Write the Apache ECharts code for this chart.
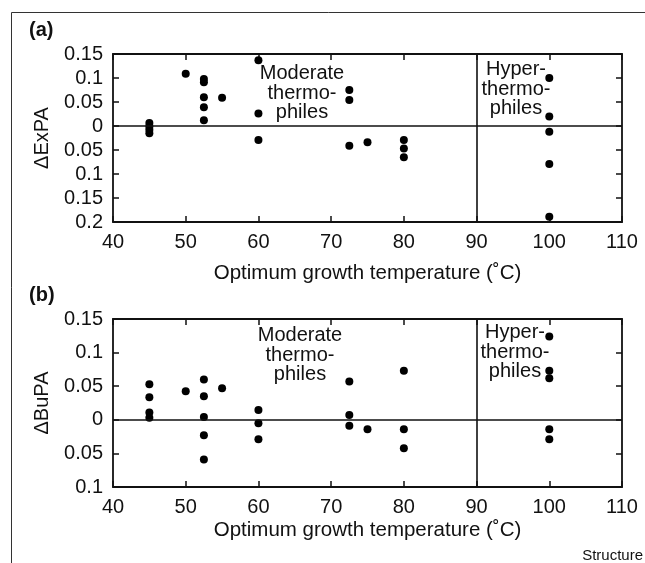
<!DOCTYPE html>
<html><head><meta charset="utf-8">
<script src="https://cdn.jsdelivr.net/npm/echarts@6/dist/echarts.min.js"></script>
<style>html,body{margin:0;padding:0;background:#fff}#c{width:645px;height:563px}</style>
</head><body><div id="c"></div>
<script>
// Panel (a): ΔExPA vs optimum growth temperature
const tempA = [45,45,45,45,50,52.5,52.5,52.5,52.5,52.5,55,60,60,60,72.5,72.5,72.5,75,80,80,80,100,100,100,100,100];
const expa  = [0.006,-0.001,-0.008,-0.015,0.109,0.098,0.091,0.06,0.039,0.012,0.059,0.137,0.026,-0.029,0.075,0.054,-0.041,-0.034,-0.029,-0.047,-0.065,0.1,0.02,-0.012,-0.079,-0.189];
// Panel (b): ΔBuPA vs optimum growth temperature
const tempB = [45,45,45,45,50,52.5,52.5,52.5,52.5,52.5,55,60,60,60,72.5,72.5,72.5,75,80,80,80,100,100,100,100,100];
const bupa  = [0.053,0.0335,0.011,0.003,0.0425,0.06,0.035,0.004,-0.023,-0.059,0.047,0.0146,-0.005,-0.029,0.057,0.007,-0.009,-0.014,0.073,-0.014,-0.0425,0.124,0.073,0.062,-0.014,-0.029];
// Axis ranges and tick labels
const xTicks = [40,50,60,70,80,90,100,110];
const yTicksA = ['0.2','0.15','0.1','0.05','0','0.05','0.1','0.15'];   // from -0.2 to 0.15
const yTicksB = ['0.1','0.05','0','0.05','0.1','0.15'];               // from -0.1 to 0.15
const boundaryTemp = 90;
const xTitle = 'Optimum growth temperature (˚C)';

const FONT = '"Liberation Sans", Arial, sans-serif';
const INK = '#111';

function xAx(grid, pos, gap) {
  const main = pos === 'bottom';
  return {
    type: 'value', gridIndex: grid, position: pos,
    min: xTicks[0], max: xTicks[xTicks.length - 1], interval: 10,
    name: main ? xTitle : '', nameLocation: 'middle', nameGap: gap,
    nameTextStyle: {fontFamily: FONT, fontSize: 20.5, color: INK},
    axisLine: {show: true, onZero: false, lineStyle: {color: INK, width: 1.8}},
    axisTick: {show: true, inside: true, length: 6, lineStyle: {color: INK, width: 1.5}},
    axisLabel: {show: main, fontFamily: FONT, fontSize: 20, color: INK, margin: 10},
    splitLine: {show: false}
  };
}
function yAx(grid, pos, min, labels, name) {
  const main = pos === 'left';
  return {
    type: 'value', gridIndex: grid, position: pos,
    min: min, max: 0.15, interval: 0.05,
    name: main ? name : '', nameLocation: 'middle', nameGap: 61, nameRotate: 90,
    nameTextStyle: {fontFamily: FONT, fontSize: 20, color: INK},
    axisLine: {show: true, onZero: false, lineStyle: {color: INK, width: 1.8}},
    axisTick: {show: true, inside: true, length: 6, lineStyle: {color: INK, width: 1.5}},
    axisLabel: {show: main, fontFamily: FONT, fontSize: 20, color: INK, margin: 10,
      formatter: (v) => labels[Math.round((v - min) / 0.05)]},
    splitLine: {show: false}
  };
}
function series(xi, yi, xs, ys) {
  return {
    type: 'scatter', xAxisIndex: xi, yAxisIndex: yi,
    data: xs.map((x, i) => [x, ys[i]]),
    symbol: 'circle', symbolSize: 8,
    itemStyle: {color: '#000', opacity: 1},
    markLine: {
      silent: true, symbol: 'none', label: {show: false},
      lineStyle: {color: INK, width: 1.6, type: 'solid', opacity: 1},
      data: [{xAxis: boundaryTemp}, {yAxis: 0}]
    }
  };
}
const textStyle = (t, x, y) => ({
  type: 'text', x: x, y: y,
  style: {text: t, fontFamily: FONT, fontSize: 20, fill: INK, textAlign: 'center', lineHeight: 19.5}
});

const chart = echarts.init(document.getElementById('c'), null, {renderer: 'canvas'});
chart.setOption({
  backgroundColor: '#fff',
  animation: false,
  grid: [
    {left: 113, right: 23, top: 54, height: 168},
    {left: 113, right: 23, top: 319, height: 168}
  ],
  xAxis: [xAx(0, 'bottom', 41), xAx(0, 'top', 0), xAx(1, 'bottom', 33), xAx(1, 'top', 0)],
  yAxis: [
    yAx(0, 'left', -0.2, yTicksA, 'ΔExPA'), yAx(0, 'right', -0.2, yTicksA, ''),
    yAx(1, 'left', -0.1, yTicksB, 'ΔBuPA'), yAx(1, 'right', -0.1, yTicksB, '')
  ],
  series: [series(0, 0, tempA, expa), series(2, 2, tempB, bupa)],
  graphic: [
    {type: 'line', shape: {x1: 11.5, y1: 12.5, x2: 645, y2: 12.5}, style: {stroke: '#333', lineWidth: 1}},
    {type: 'line', shape: {x1: 11.5, y1: 12.5, x2: 11.5, y2: 563}, style: {stroke: '#333', lineWidth: 1}},
    {type: 'text', x: 29, y: 20, style: {text: '(a)', fontFamily: FONT, fontSize: 20, fontWeight: 'bold', fill: INK}},
    {type: 'text', x: 29, y: 285, style: {text: '(b)', fontFamily: FONT, fontSize: 20, fontWeight: 'bold', fill: INK}},
    textStyle('Moderate\nthermo-\nphiles', 302, 64),
    textStyle('Hyper-\nthermo-\nphiles', 516, 60),
    textStyle('Moderate\nthermo-\nphiles', 300, 326),
    textStyle('Hyper-\nthermo-\nphiles', 515, 323),
    {type: 'text', x: 643, y: 548, style: {text: 'Structure', fontFamily: FONT, fontSize: 15, fill: INK, textAlign: 'right'}}
  ]
});
</script>
</body></html>
